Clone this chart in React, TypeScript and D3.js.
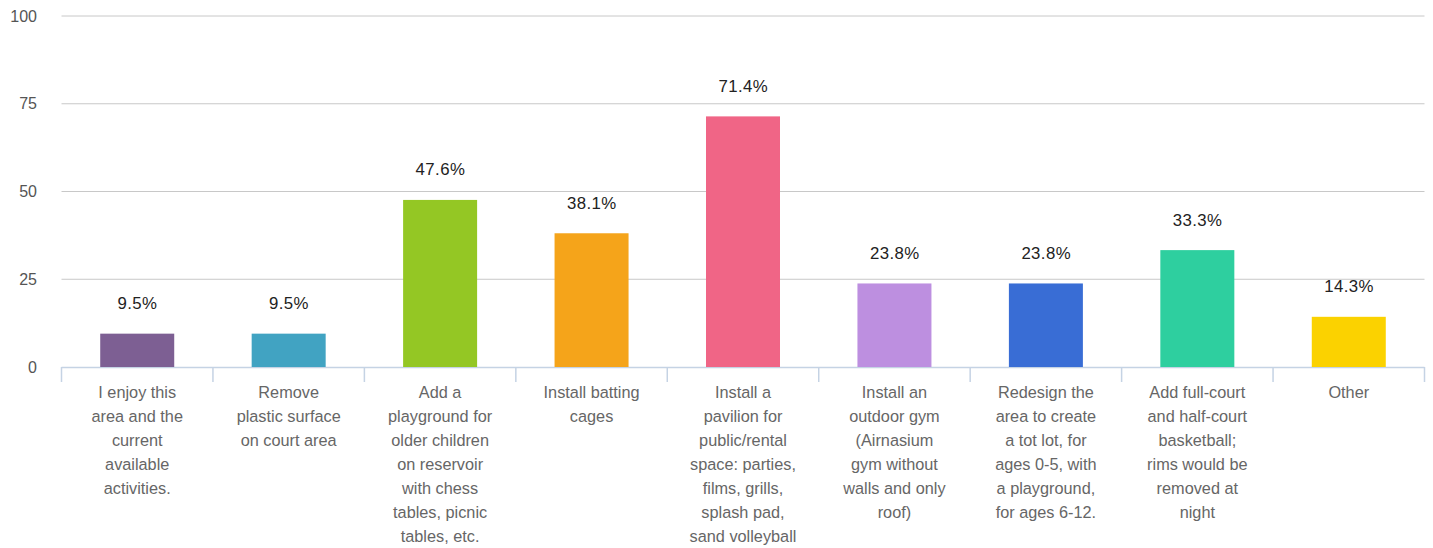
import React from "react";
import * as d3 from "d3";

const categories: string[][] = [
  ["I enjoy this", "area and the", "current", "available", "activities."],
  ["Remove", "plastic surface", "on court area"],
  ["Add a", "playground for", "older children", "on reservoir", "with chess", "tables, picnic", "tables, etc."],
  ["Install batting", "cages"],
  ["Install a", "pavilion for", "public/rental", "space: parties,", "films, grills,", "splash pad,", "sand volleyball"],
  ["Install an", "outdoor gym", "(Airnasium", "gym without", "walls and only", "roof)"],
  ["Redesign the", "area to create", "a tot lot, for", "ages 0-5, with", "a playground,", "for ages 6-12."],
  ["Add full-court", "and half-court", "basketball;", "rims would be", "removed at", "night"],
  ["Other"],
];
const values: number[] = [9.5, 9.5, 47.6, 38.1, 71.4, 23.8, 23.8, 33.3, 14.3];
const colors: string[] = ["#7d5f93", "#41a3c2", "#94c724", "#f5a41a", "#f06586", "#bd8fe0", "#396dd5", "#2ecf9f", "#fbd200"];
const yTicks: number[] = [0, 25, 50, 75, 100];

const W = 1433, H = 548;
const left = 61.5, right = 1424.5, top = 16, bottom = 367;
const font = "'Liberation Sans', Arial, Helvetica, sans-serif";

export default function App() {
  const x = d3.scaleBand<number>().domain(values.map((_, i) => i)).range([left, right]).paddingInner(0).paddingOuter(0);
  const y = d3.scaleLinear().domain([0, 100]).range([bottom, top]);
  const barW = 74;
  return (
    <svg width={W} height={H} style={{ position: "absolute", left: 0, top: 0, fontFamily: font }}>
      {yTicks.map((t) => (
        <g key={t}>
          {t > 0 && <line x1={left} x2={right} y1={y(t)} y2={y(t)} stroke="#c8c8c8" strokeWidth={1} />}
          <text x={37} y={y(t) + 5.5} textAnchor="end" fontSize={16} fill="#555">{t}</text>
        </g>
      ))}
      <line x1={left} x2={right} y1={bottom + 0.5} y2={bottom + 0.5} stroke="#c5d3e4" strokeWidth={1.5} />
      {d3.range(values.length + 1).map((i) => {
        const xx = i < values.length ? x(i)! : right;
        return <line key={i} x1={xx} x2={xx} y1={bottom} y2={bottom + 15} stroke="#c5d3e4" strokeWidth={1.5} />;
      })}
      {values.map((v, i) => {
        const cx = x(i)! + x.bandwidth() / 2;
        return (
          <g key={i}>
            <rect x={cx - barW / 2} y={y(v)} width={barW} height={bottom - y(v)} fill={colors[i]} />
            <text x={cx + 0.3} y={y(v) - 24.5} textAnchor="middle" fontSize={16.8} letterSpacing={0.4} fill="#222">{v.toFixed(1)}%</text>
            <text x={cx} y={398} textAnchor="middle" fontSize={16.3} fill="#666">
              {categories[i].map((line, j) => (
                <tspan key={j} x={cx} dy={j === 0 ? 0 : 24}>{line}</tspan>
              ))}
            </text>
          </g>
        );
      })}
    </svg>
  );
}
